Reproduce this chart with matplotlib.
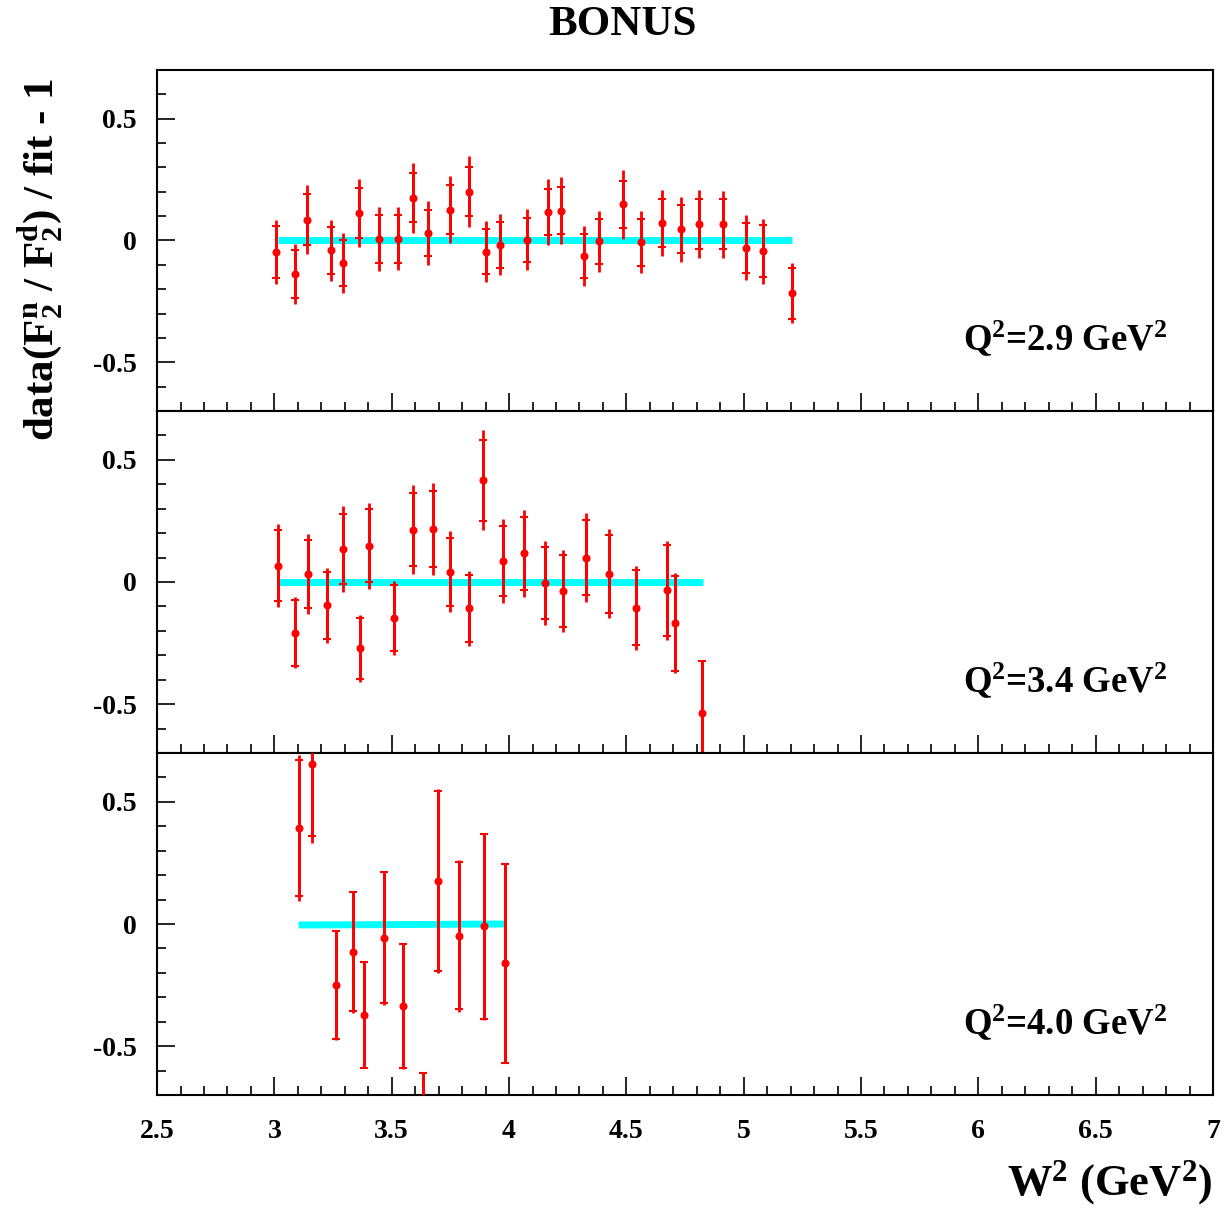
import numpy as np
import matplotlib
matplotlib.use("Agg")
import matplotlib.pyplot as plt
from matplotlib.ticker import MultipleLocator

plt.rcParams['font.family'] = ['Liberation Serif', 'DejaVu Serif']
plt.rcParams['font.weight'] = 'bold'
plt.rcParams['mathtext.fontset'] = 'custom'
plt.rcParams['mathtext.rm'] = 'Liberation Serif:bold'
plt.rcParams['mathtext.it'] = 'Liberation Serif:bold'
plt.rcParams['mathtext.bf'] = 'Liberation Serif:bold'

# Q2 = 2.9 GeV2
w2_a = [3.006, 3.086, 3.141, 3.242, 3.293, 3.361, 3.444, 3.525, 3.590, 3.656,
        3.747, 3.829, 3.900, 3.960, 4.077, 4.166, 4.220, 4.318, 4.385, 4.486,
        4.563, 4.653, 4.732, 4.810, 4.911, 5.009, 5.083, 5.204]
rat_a = [-0.048, -0.138, 0.086, -0.041, -0.093, 0.113, 0.007, 0.007, 0.175, 0.031,
         0.127, 0.200, -0.046, -0.018, 0.003, 0.117, 0.123, -0.064, -0.003, 0.148,
         -0.008, 0.072, 0.046, 0.068, 0.067, -0.030, -0.045, -0.216]
stat_a = [0.106, 0.100, 0.106, 0.096, 0.094, 0.102, 0.099, 0.098, 0.101, 0.096,
          0.100, 0.100, 0.093, 0.093, 0.091, 0.094, 0.097, 0.091, 0.093, 0.098,
          0.097, 0.098, 0.098, 0.103, 0.102, 0.103, 0.107, 0.105]
tot_a = [0.131, 0.123, 0.141, 0.126, 0.122, 0.139, 0.131, 0.130, 0.143, 0.130,
         0.139, 0.145, 0.124, 0.125, 0.126, 0.134, 0.138, 0.122, 0.126, 0.141,
         0.127, 0.135, 0.133, 0.139, 0.138, 0.133, 0.135, 0.124]

# Q2 = 3.4 GeV2
w2_b = [3.015, 3.088, 3.145, 3.224, 3.293, 3.366, 3.405, 3.509, 3.590, 3.676,
        3.747, 3.829, 3.887, 3.976, 4.064, 4.153, 4.230, 4.327, 4.426, 4.541,
        4.675, 4.708, 4.821]
rat_b = [0.067, -0.208, 0.033, -0.096, 0.135, -0.272, 0.149, -0.148, 0.214, 0.217,
         0.042, -0.108, 0.417, 0.085, 0.117, -0.005, -0.037, 0.100, 0.034, -0.105,
         -0.034, -0.169, -0.535]
stat_b = [0.145, 0.134, 0.138, 0.137, 0.145, 0.124, 0.149, 0.134, 0.150, 0.156,
          0.140, 0.136, 0.166, 0.144, 0.150, 0.148, 0.149, 0.154, 0.159, 0.153,
          0.186, 0.194, 0.213]
tot_b = [0.171, 0.146, 0.163, 0.153, 0.175, 0.136, 0.176, 0.152, 0.182, 0.188,
         0.165, 0.155, 0.205, 0.171, 0.178, 0.171, 0.169, 0.181, 0.181, 0.172,
         0.202, 0.205, 0.215]

# Q2 = 4.0 GeV2
w2_c = [3.107, 3.161, 3.263, 3.336, 3.380, 3.469, 3.548, 3.634, 3.697, 3.787,
        3.892, 3.984]
rat_c = [0.393, 0.657, -0.249, -0.113, -0.373, -0.057, -0.336, -0.850, 0.176, -0.049,
         -0.010, -0.161]
stat_c = [0.278, 0.296, 0.220, 0.242, 0.218, 0.268, 0.253, 0.240, 0.369, 0.301,
          0.377, 0.407]
tot_c = [0.300, 0.326, 0.225, 0.250, 0.218, 0.275, 0.256, 0.242, 0.378, 0.310,
         0.383, 0.410]

# fit lines (ratio to fit -> ~0)
fit_x_a = [3.016, 5.206]
fit_y_a = [0.0, 0.0]
fit_x_b = [3.016, 4.827]
fit_y_b = [0.0, 0.0]
fit_x_c = [3.103, 3.60, 3.982]
fit_y_c = [-0.004, -0.002, 0.0]

q2_labels = [r'Q$^2$=2.9 GeV$^2$', r'Q$^2$=3.4 GeV$^2$', r'Q$^2$=4.0 GeV$^2$']

panels = [
    (w2_a, rat_a, stat_a, tot_a, fit_x_a, fit_y_a),
    (w2_b, rat_b, stat_b, tot_b, fit_x_b, fit_y_b),
    (w2_c, rat_c, stat_c, tot_c, fit_x_c, fit_y_c),
]

fig = plt.figure(figsize=(12.28, 12.13), dpi=100)
left, right = 0.1279, 0.9878
bounds = [0.9423, 0.6612, 0.3792, 0.0973]

for i, (x, y, st, tt, fx, fy) in enumerate(panels):
    ax = fig.add_axes([left, bounds[i + 1], right - left, bounds[i] - bounds[i + 1]])
    ax.plot(fx, fy, color='#00ffff', lw=5, solid_capstyle='butt', zorder=1)
    ax.errorbar(x, y, yerr=tt, fmt='none', ecolor='red', elinewidth=2.0, capsize=0, zorder=2)
    ax.errorbar(x, y, yerr=st, fmt='o', color='red', ms=4.8, ecolor='red',
                elinewidth=2.0, capsize=2.8, capthick=1.5, zorder=3)
    ax.set_xlim(2.5, 7.0)
    ax.set_ylim(-0.7, 0.7)
    ax.xaxis.set_major_locator(MultipleLocator(0.5))
    ax.xaxis.set_minor_locator(MultipleLocator(0.1))
    ax.yaxis.set_major_locator(MultipleLocator(0.5))
    ax.yaxis.set_minor_locator(MultipleLocator(0.1))
    ax.tick_params(which='both', direction='in', top=False, right=False, width=1.2,
                   labelsize=20)
    ax.tick_params(axis='x', pad=17.5)
    ax.tick_params(axis='y', pad=14.6)
    ax.tick_params(which='major', length=13)
    ax.tick_params(which='minor', length=6.5)
    ax.set_yticks([-0.5, 0, 0.5])
    ax.set_yticklabels(['-0.5', '0', '0.5'])
    for sp in ax.spines.values():
        sp.set_linewidth(1.5)
    if i < 2:
        ax.tick_params(labelbottom=False)
    else:
        ax.set_xticks(np.arange(2.5, 7.01, 0.5))
        ax.set_xticklabels(['2.5', '3', '3.5', '4', '4.5', '5', '5.5', '6', '6.5', '7'])
    ax.text(0.957, 0.214, q2_labels[i], transform=ax.transAxes, ha='right', va='center',
            fontsize=26.5, fontweight='bold')

fig.text(0.507, 0.979, 'BONUS', ha='center', va='center', fontsize=31, fontweight='bold')
fig.text(0.033, 0.786, r'data(F$_2^{\mathrm{n}}$ / F$_2^{\mathrm{d}}$) / fit - 1',
         rotation=90, ha='center', va='center', fontsize=31, fontweight='bold')
fig.text(0.9878, 0.025, r'W$^2$ (GeV$^2$)', ha='right', va='center', fontsize=32,
         fontweight='bold')

fig.savefig('out.png', dpi=100)
